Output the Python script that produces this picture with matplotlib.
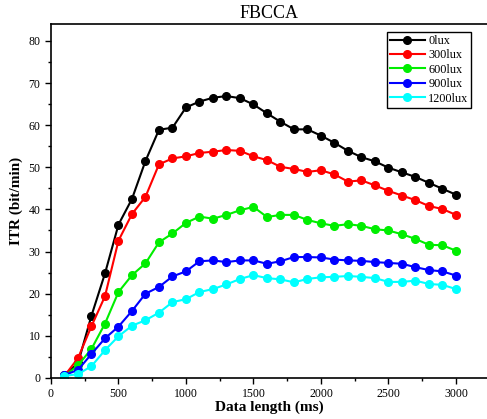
import numpy as np
import matplotlib
matplotlib.use('Agg')
import matplotlib.pyplot as plt
from matplotlib.ticker import MultipleLocator

plt.rcParams['font.family'] = ['Liberation Serif', 'DejaVu Serif']

# data length in ms
data_len = list(range(100, 3100, 100))

itr_0lux = [0.6, 3.5, 14.8, 24.8, 36.4, 42.5, 51.5, 58.9, 59.4, 64.2,
            65.6, 66.5, 66.9, 66.4, 64.9, 62.8, 60.8, 59.0, 59.0, 57.5,
            55.8, 53.9, 52.4, 51.4, 49.9, 48.8, 47.7, 46.3, 44.9, 43.5]
itr_300lux = [0.5, 4.7, 12.3, 19.4, 32.6, 38.9, 43.0, 50.7, 52.1, 52.6,
              53.4, 53.7, 54.1, 53.9, 52.6, 51.7, 50.1, 49.6, 48.9, 49.3,
              48.3, 46.6, 46.9, 45.7, 44.4, 43.3, 42.2, 40.8, 40.1, 38.7]
itr_600lux = [0.4, 3.0, 6.9, 12.9, 20.4, 24.4, 27.2, 32.2, 34.3, 36.8,
              38.3, 37.8, 38.7, 39.8, 40.6, 38.2, 38.7, 38.7, 37.5, 36.7,
              36.1, 36.5, 36.1, 35.3, 35.0, 34.1, 33.0, 31.6, 31.5, 30.2]
itr_900lux = [0.7, 1.9, 5.7, 9.4, 12.2, 15.9, 20.0, 21.6, 24.1, 25.3,
              27.7, 27.9, 27.5, 27.9, 27.9, 27.1, 27.7, 28.7, 28.7, 28.6,
              28.1, 27.9, 27.8, 27.5, 27.3, 27.1, 26.3, 25.6, 25.3, 24.3]
itr_1200lux = [0.5, 0.9, 2.8, 6.6, 9.9, 12.4, 13.7, 15.5, 18.0, 18.7,
               20.4, 21.1, 22.2, 23.5, 24.4, 23.7, 23.4, 22.7, 23.5, 23.9,
               24.0, 24.2, 24.0, 23.7, 22.8, 22.8, 23.1, 22.3, 22.1, 21.1]

labels = ['0lux', '300lux', '600lux', '900lux', '1200lux']
colors = ['black', 'red', '#00ee00', 'blue', 'cyan']
series = [itr_0lux, itr_300lux, itr_600lux, itr_900lux, itr_1200lux]

fig = plt.figure(figsize=(4.87, 4.19), dpi=100)
ax = fig.add_axes([0.1047, 0.0979, 0.8953, 0.8448])

for vals, lab, c in zip(series, labels, colors):
    ax.plot(data_len, vals, '-o', color=c, label=lab, linewidth=1.5, markersize=5.5)

ax.set_xlim(0, 3230)
ax.set_ylim(0, 84)
ax.xaxis.set_major_locator(MultipleLocator(500))
ax.xaxis.set_minor_locator(MultipleLocator(250))
ax.yaxis.set_major_locator(MultipleLocator(10))
ax.yaxis.set_minor_locator(MultipleLocator(5))
ax.tick_params(which='major', length=4, width=1, labelsize=8.5)
ax.tick_params(which='minor', length=2.5, width=1)
for sp in ax.spines.values():
    sp.set_linewidth(1.2)
ax.spines['right'].set_visible(False)

ax.set_title('FBCCA', fontsize=13, pad=4)
ax.set_xlabel('Data length (ms)', fontsize=11, fontweight='bold', labelpad=0)
ax.set_ylabel('ITR (bit/min)', fontsize=11, fontweight='bold', labelpad=4)

leg = ax.legend(loc='upper right', bbox_to_anchor=(0.97, 0.985), fontsize=8.8,
                fancybox=False, edgecolor='black', framealpha=1,
                handlelength=2.8, borderpad=0.25, labelspacing=0.2,
                handletextpad=0.3, borderaxespad=0.2)
leg.get_frame().set_linewidth(1.0)

fig.savefig('out.png', dpi=100)
